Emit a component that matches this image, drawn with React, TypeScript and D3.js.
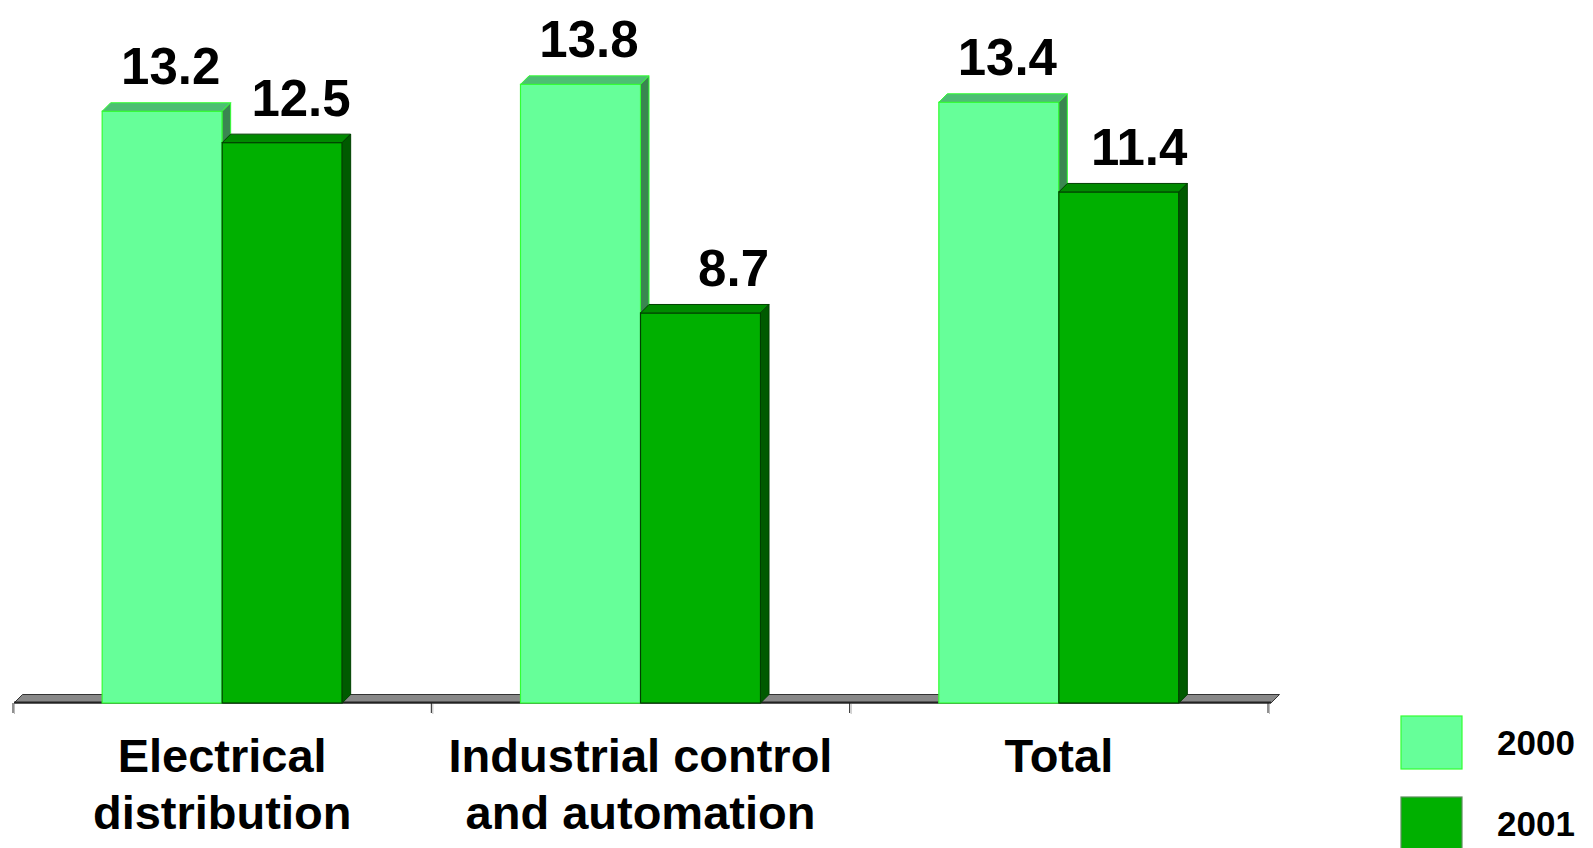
import React from "react";
import * as d3 from "d3";

// Growth by business segment, 2000 vs 2001 (%)
const categories: string[][] = [
  ["Electrical", "distribution"],
  ["Industrial control", "and automation"],
  ["Total"],
];
const seriesNames = ["2000", "2001"];
const values2000 = [13.2, 13.8, 13.4];
const values2001 = [12.5, 8.7, 11.4];
const valueLabels2000 = ["13.2", "13.8", "13.4"];
const valueLabels2001 = ["12.5", "8.7", "11.4"];

const W = 1593;
const H = 848;
const FONT = "'Liberation Sans', Arial, Helvetica, sans-serif";

const baseY = 703;
const unitPx = 44.83;
const depthX = 8.5;
const depthY = 8.5;
const groupWidth = 240;
const labelGap = 27;

const palette = [
  { front: "#66FF99", stroke: "#33FF33", top: "#4DBE73", side: "#3A8650" },
  { front: "#00B000", stroke: "#004000", top: "#008A00", side: "#005A00" },
];

export default function App() {
  const yMax = 14;
  const y = d3.scaleLinear().domain([0, yMax]).range([baseY, baseY - yMax * unitPx]);
  const catKeys = categories.map((c) => c.join(" "));
  const x0 = d3.scaleBand<string>().domain(catKeys).range([13, 1268]).padding(0);
  const x1 = d3.scaleBand<string>().domain(seriesNames).range([0, groupWidth]).padding(0);
  const bw = x1.bandwidth();
  const seriesValues = [values2000, values2001];
  const seriesLabels = [valueLabels2000, valueLabels2001];

  const floorL = 14;
  const floorR = 1271;
  const tickXs = [0, 1, 2, 3].map((i) => 13 + i * x0.bandwidth());

  return (
    <svg
      width={W}
      height={H}
      style={{ position: "absolute", left: 0, top: 0, background: "#fff" }}
      fontFamily={FONT}
    >
      {/* floor */}
      <polygon
        points={`${floorL},${baseY} ${floorL + depthX},${baseY - depthY} ${floorR + depthX},${baseY - depthY} ${floorR},${baseY}`}
        fill="#888888"
        stroke="#333333"
        strokeWidth={1}
      />
      <line x1={floorL} x2={floorR} y1={baseY - 0.5} y2={baseY - 0.5} stroke="#222" strokeWidth={2} />
      {tickXs.map((tx, i) => (
        <g key={`t${i}`}>
          <line x1={tx} x2={tx} y1={baseY} y2={baseY + 10} stroke="#222" strokeWidth={1} />
          <line x1={tx + 1.5} x2={tx + 1.5} y1={baseY + 1} y2={baseY + 11} stroke="#bbb" strokeWidth={1} />
        </g>
      ))}

      {/* bars */}
      {catKeys.map((ck, ci) => {
        const gx = (x0(ck) as number) + (x0.bandwidth() - groupWidth) / 2;
        return (
          <g key={ck}>
            {seriesNames.map((s, si) => {
              const v = seriesValues[si][ci];
              const bx = gx + (x1(s) as number);
              const ty = y(v);
              const c = palette[si];
              return (
                <g key={s}>
                  <rect x={bx} y={ty} width={bw} height={baseY - ty} fill={c.front} stroke={c.stroke} strokeWidth={1.2} />
                  <polygon
                    points={`${bx},${ty} ${bx + depthX},${ty - depthY} ${bx + bw + depthX},${ty - depthY} ${bx + bw},${ty}`}
                    fill={c.top}
                    stroke={c.stroke}
                    strokeWidth={1}
                  />
                  <polygon
                    points={`${bx + bw},${ty} ${bx + bw + depthX},${ty - depthY} ${bx + bw + depthX},${baseY - depthY} ${bx + bw},${baseY}`}
                    fill={c.side}
                    stroke={c.stroke}
                    strokeWidth={1}
                  />
                </g>
              );
            })}
          </g>
        );
      })}

      {/* value labels */}
      {catKeys.map((ck, ci) => {
        const gx = (x0(ck) as number) + (x0.bandwidth() - groupWidth) / 2;
        return seriesNames.map((s, si) => {
          const v = seriesValues[si][ci];
          const bx = gx + (x1(s) as number);
          const ty = y(v) - labelGap;
          const lx = si === 0 ? bx + bw / 2 + depthX : bx + bw + depthX;
          return (
            <text
              key={`${ck}-${s}`}
              x={lx}
              y={ty}
              textAnchor={si === 0 ? "middle" : "end"}
              fontSize={51}
              fontWeight="bold"
              fill="#000"
            >
              {seriesLabels[si][ci]}
            </text>
          );
        });
      })}

      {/* category labels */}
      {categories.map((lines, ci) => {
        const cx = (x0(catKeys[ci]) as number) + x0.bandwidth() / 2;
        return (
          <text key={`c${ci}`} textAnchor="middle" fontSize={47} fontWeight="bold" fill="#000">
            {lines.map((ln, li) => (
              <tspan key={li} x={cx} y={772 + li * 56.5}>
                {ln}
              </tspan>
            ))}
          </text>
        );
      })}

      {/* legend */}
      {seriesNames.map((s, si) => {
        const ly = 716 + si * 81;
        return (
          <g key={`lg${s}`}>
            <rect
              x={1401}
              y={ly}
              width={61}
              height={53}
              fill={palette[si].front}
              stroke={si === 0 ? "#33FF33" : "#5E8F5E"}
              strokeWidth={1.2}
            />
            <text x={1497} y={ly + 39} fontSize={35} fontWeight="bold" fill="#000">
              {s}
            </text>
          </g>
        );
      })}
    </svg>
  );
}
